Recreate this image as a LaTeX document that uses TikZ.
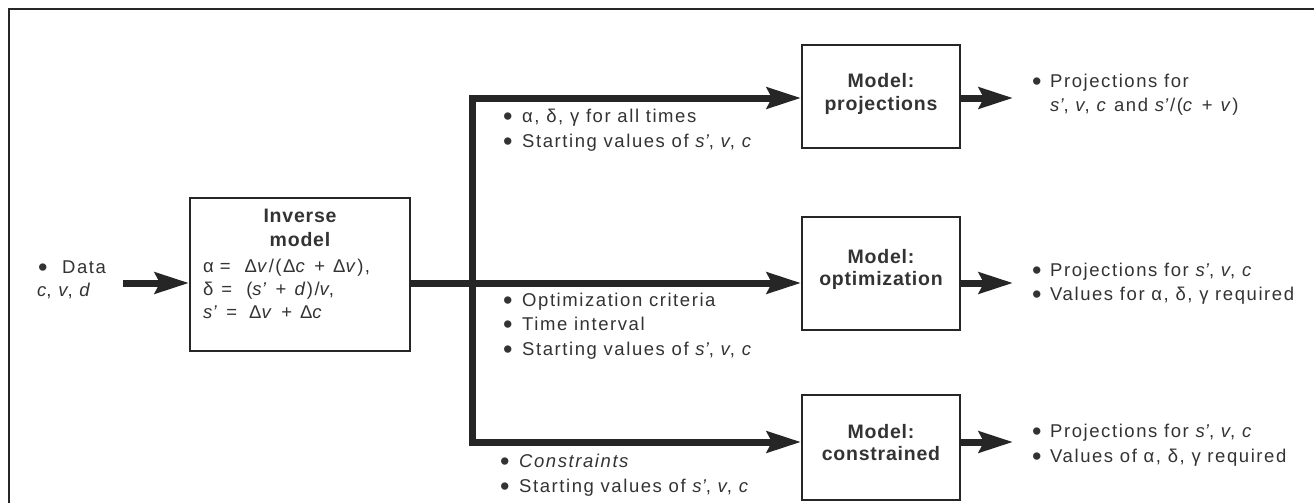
\documentclass[tikz,border=0pt]{standalone}
\usepackage{fontspec}
\setmainfont{Liberation Sans}[LetterSpace=8.5]
\newfontfamily\hb{Liberation Sans}[LetterSpace=4]
\usetikzlibrary{arrows.meta}
\definecolor{ink}{HTML}{262626}
\definecolor{txtc}{HTML}{333333}
\newcommand\bl[1][19pt]{\makebox[#1][l]{\smash{\raisebox{-3pt}{\fontsize{27}{27}\selectfont•}}}}
\newcommand\vi[1]{\textit{#1}}
\newcommand\spr{\textit{s}\kern-1.5pt\textit{'}}
\begin{document}
\begin{tikzpicture}[x=1pt,y=-1pt,
  box/.style={draw=ink, line width=2pt, inner sep=0pt},
  bus/.style={draw=ink, line width=7pt},
  tip/.style={-{Stealth[length=34pt,width=21pt,inset=5pt]}},
  txt/.style={text=txtc, inner sep=0pt, anchor=base west, font=\fontsize{18.5}{22}\selectfont},
  btxt/.style={text=txtc, inner sep=0pt, anchor=base, font=\hb\fontsize{19.5}{22}\selectfont\bfseries}]
\useasboundingbox (0,0) rectangle (1314,503);
\fill[white] (0,0) rectangle (1314,503);
% frame
\draw[ink, line width=2pt] (9,503) -- (9,9) -- (1314,9);

% boxes
\node[box, minimum width=220pt, minimum height=153pt] (inv) at (300,274.5) {};
\node[box, minimum width=158pt, minimum height=103pt] (proj) at (881,96.5) {};
\node[box, minimum width=158pt, minimum height=113pt] (opt) at (881,273.5) {};
\node[box, minimum width=158pt, minimum height=105pt] (cons) at (881,447.5) {};

% box texts
\node[btxt] (inv1) at (300,222) {Inverse};
\node[btxt] (inv2) at (300,246) {model};
\node[txt] (f1) at (203,272) {α\hspace{6pt}=\hspace{14pt}Δ\vi{v}/(Δ\vi{c}\hspace{8pt}+\hspace{8pt}Δ\vi{v}),};
\node[txt] (f2) at (203,295) {δ\hspace{8pt}=\hspace{14pt}(\spr\hspace{8pt}+\hspace{8pt}\vi{d})/\vi{v},};
\node[txt] (f3) at (203,318) {\spr\hspace{8pt}=\hspace{12pt}Δ\vi{v}\hspace{8pt}+\hspace{8pt}Δ\vi{c}};

\node[btxt] (p1) at (881,87) {Model:};
\node[btxt] (p2) at (881,110) {projections};
\node[btxt] (o1) at (881,263) {Model:};
\node[btxt] (o2) at (881,285) {optimization};
\node[btxt] (c1) at (881,438) {Model:};
\node[btxt] (c2) at (881,460) {constrained};

% data
\node[txt] (d1) at (38,273) {\bl[24pt]Data};
\node[txt] (d2) at (37,296) {\vi{c}, \vi{v}, \vi{d}};

% connectors
\coordinate (din) at (123,283);
\coordinate (jm) at (472,283);
\draw[bus,tip] (din) -- ([yshift=-8.5pt]inv.west);
\draw[bus,tip] ([yshift=-8.5pt]inv.east) -- ([yshift=-9.5pt]opt.west);
\draw[bus,tip] (jm) |- ([yshift=-1.5pt]proj.west);
\draw[bus,tip] (jm) |- ([yshift=5.5pt]cons.west);

\coordinate (po) at (1013,98);
\coordinate (oo) at (1013,283);
\coordinate (co) at (1013,442);
\draw[bus,tip] ([yshift=-1.5pt]proj.east) -- (po);
\draw[bus,tip] ([yshift=-9.5pt]opt.east) -- (oo);
\draw[bus,tip] ([yshift=5.5pt]cons.east) -- (co);

% branch labels
\node[txt] (l1) at (503,122) {\bl α, δ, γ for all times};
\node[txt] (l2) at (503,147) {\bl Starting values of \spr, \vi{v}, \vi{c}};
\node[txt] (m1) at (503,306) {\bl Optimization criteria};
\node[txt] (m2) at (503,330) {\bl Time interval};
\node[txt] (m3) at (503,355) {\bl Starting values of \spr, \vi{v}, \vi{c}};
\node[txt] (b1) at (500,467) {\bl\vi{Constraints}};
\node[txt] (b2) at (500,492) {\bl Starting values of \spr, \vi{v}, \vi{c}};

% outputs
\node[txt] (r1) at (1032,87) {\bl[18pt]Projections for};
\node[txt] (r2) at (1050,111) {\spr, \vi{v}, \vi{c} and \spr/(\vi{c}\hspace{8pt}+\hspace{8pt}\vi{v})};
\node[txt] (r3) at (1032,276) {\bl[18pt]Projections for \spr, \vi{v}, \vi{c}};
\node[txt] (r4) at (1032,300) {\bl[18pt]Values for α, δ, γ required};
\node[txt] (r5) at (1032,437) {\bl[18pt]Projections for \spr, \vi{v}, \vi{c}};
\node[txt] (r6) at (1032,462) {\bl[18pt]Values of α, δ, γ required};
\end{tikzpicture}
\end{document}
